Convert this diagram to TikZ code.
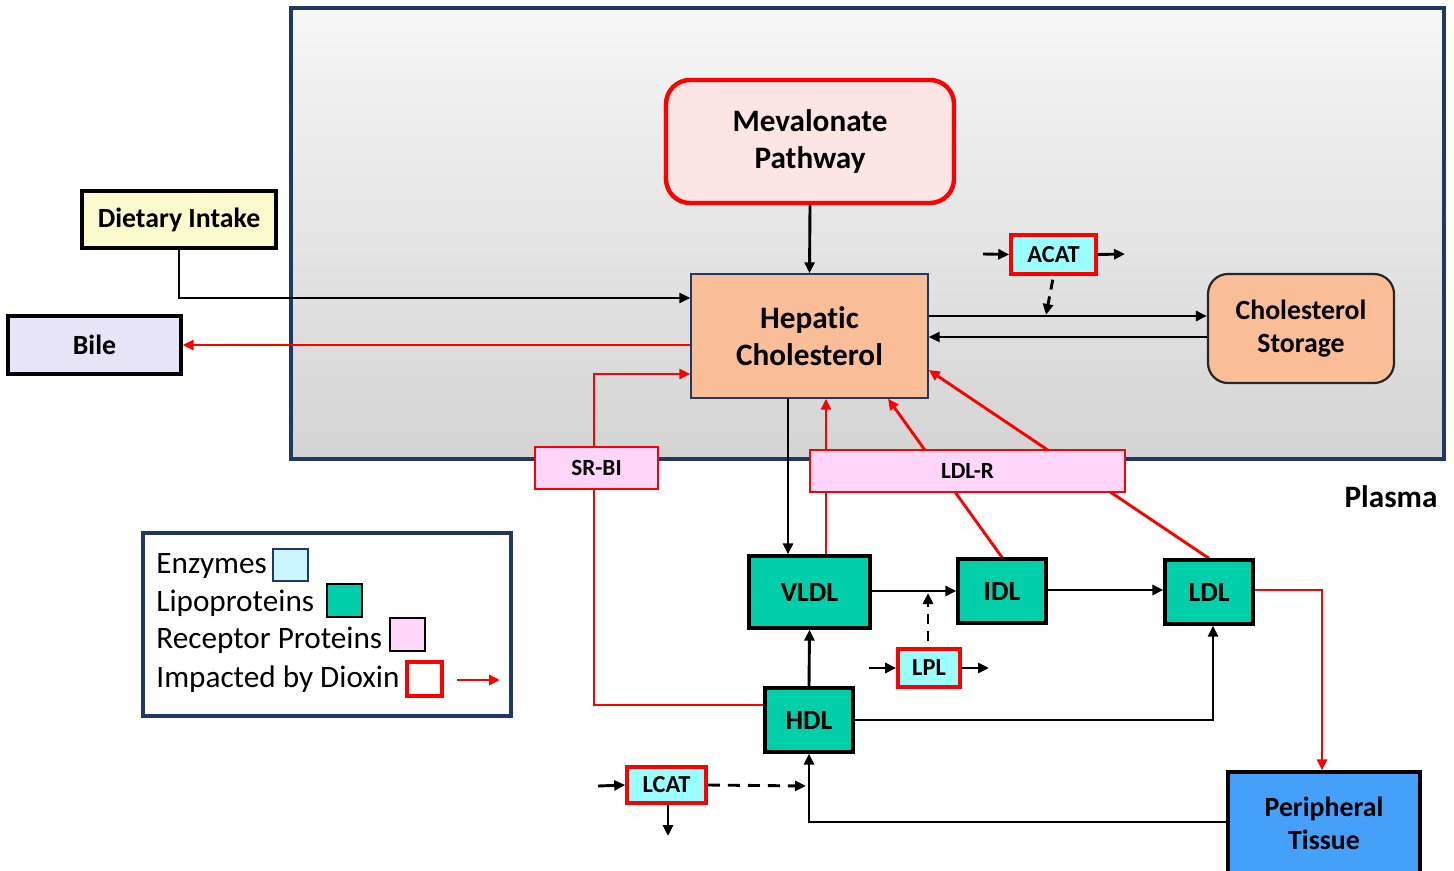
\documentclass[tikz,border=0pt]{standalone}
\usepackage{fontspec}
\setmainfont{Carlito}[Ligatures=NoCommon]
\usetikzlibrary{arrows.meta,calc}
\definecolor{navy}{RGB}{31,56,100}
\definecolor{rd}{RGB}{255,0,0}
\definecolor{mevfill}{RGB}{251,229,229}
\definecolor{peach}{RGB}{249,190,151}
\definecolor{teal2}{RGB}{0,207,170}
\definecolor{cyan2}{RGB}{153,255,255}
\definecolor{pink2}{RGB}{255,214,250}
\definecolor{yell}{RGB}{250,250,204}
\definecolor{lav}{RGB}{232,228,248}
\definecolor{blue2}{RGB}{69,160,250}
\definecolor{lcyan}{RGB}{204,246,255}
\definecolor{gtop}{RGB}{246,246,246}
\definecolor{gbot}{RGB}{212,212,212}
\pgfdeclarelayer{bg}\pgfdeclarelayer{lines}\pgfsetlayers{bg,lines,main}
\newcommand\bx[7]{%
  \pgfmathsetmacro\bxw{(#5-#3)*0.5}%
  \pgfmathsetmacro\bxh{(#6-#4)*0.5}%
  \node[#2, minimum width=\bxw pt, minimum height=\bxh pt] (#1) at ({(#3+#5)/2},{(#4+#6)/2}) {#7};}
\tikzset{
  fbox/.style={inner sep=0pt, align=center, font=\bfseries},
  big/.style={font=\bfseries\fontsize{15.6}{18.5}\selectfont},
  mid/.style={font=\bfseries\fontsize{13.9}{16.5}\selectfont},
  sml/.style={font=\bfseries\fontsize{11.6}{14}\selectfont},
  lipo/.style={fbox, mid, draw=black, fill=teal2, line width=1.6pt},
  enz/.style={fbox, font=\bfseries\fontsize{12.2}{14}\selectfont, draw=rd, fill=cyan2, line width=1.8pt},
  rec/.style={fbox, sml, draw=rd, fill=pink2, line width=1.4pt},
  arr/.style={line width=1.45pt, -{Triangle[length=5.5pt,width=5pt]}},
  blk/.style={arr, draw=black},
  red/.style={arr, draw=rd},
  legtxt/.style={anchor=west, inner sep=0pt, font=\fontsize{15.6}{18}\selectfont},
  sq/.style={inner sep=0pt, line width=1.4pt},
}
\begin{document}
\begin{tikzpicture}[x=0.5pt,y=-0.5pt]
\useasboundingbox (0,0) rectangle (1454,871);
\begin{pgfonlayer}{bg}
  \fill[white] (0,0) rectangle (1454,871);
  \shade[top color=gtop, bottom color=gbot] (291,8) rectangle (1444,459);
  \draw[navy, line width=1.6pt] (291,8) rectangle (1444,459);
\end{pgfonlayer}

% nodes
\bx{mev}{fbox, big, draw=rd, fill=mevfill, line width=2.2pt, rounded corners=12pt}{666}{80}{954}{203}{Mevalonate\\Pathway}
\bx{hep}{fbox, big, draw=navy, fill=peach, line width=0.7pt}{691}{274}{928}{398}{Hepatic\\Cholesterol}
\bx{stor}{fbox, mid, draw=black!85, fill=peach, line width=1.1pt, rounded corners=10pt}{1208}{274}{1394}{383}{Cholesterol\\Storage}
\bx{diet}{fbox, mid, draw=black, fill=yell, line width=1.6pt}{82}{191}{276}{248}{Dietary Intake}
\bx{bile}{fbox, mid, draw=black, fill=lav, line width=1.6pt}{8}{316}{181}{374}{Bile}
\bx{acat}{enz}{1011}{235}{1096}{274}{ACAT}
\bx{srbi}{rec}{535}{447}{658}{489}{SR-BI}
\bx{ldlr}{rec}{810}{450}{1125}{492}{LDL-R}
\bx{vldl}{lipo}{749}{556}{870}{628}{VLDL}
\bx{idl}{lipo}{958}{559}{1046}{623}{IDL}
\bx{ldl}{lipo}{1165}{560}{1253}{624}{LDL}
\bx{hdl}{lipo}{765}{688}{853}{752}{HDL}
\bx{lpl}{enz}{898}{649}{960}{687}{LPL}
\bx{lcat}{enz}{627}{767}{706}{803}{LCAT}
\bx{peri}{fbox, mid, draw=black, fill=blue2, line width=1.6pt}{1228}{772}{1420}{875}{Peripheral\\Tissue}
\node[big, inner sep=0pt] (plasma) at (1391,497) {Plasma};

% legend
\bx{legend}{draw=navy, line width=1.6pt, fill=white, inner sep=0pt}{143}{533}{511}{716}{}
\node[legtxt] (l1) at (156,566) {Enzymes};
\node[legtxt] (l2) at (156,603) {Lipoproteins};
\node[legtxt] (l3) at (156,640) {Receptor Proteins};
\node[legtxt] (l4) at (156,679) {Impacted by Dioxin};
\bx{s1}{sq, draw=navy, fill=lcyan}{273}{549}{308}{581}{}
\bx{s2}{sq, draw=black, fill=teal2}{327}{584}{362}{617}{}
\bx{s3}{sq, draw=black, fill=pink2}{390}{618}{425}{651}{}
\bx{s4}{sq, draw=rd, fill=white, line width=2pt}{407}{662}{442}{696}{}
\coordinate (la) at (457,680);
\coordinate (lb) at (500,680);
\draw[red] (la) -- (lb);

% connectors
\begin{pgfonlayer}{lines}
  \draw[blk] (mev.south) -- (hep.north);
  \draw[blk] (diet.south) |- (hep.west |- 0,298);
  \draw[red] (hep.west |- 0,345) -- (bile.east |- 0,345);
  \draw[blk] (hep.east |- 0,316) -- (stor.west |- 0,316);
  \draw[blk] (stor.west |- 0,337) -- (hep.east |- 0,337);
  \coordinate (acin) at (983,254);
  \coordinate (acout) at (1125,254);
  \coordinate (acdn) at (1046,315);
  \draw[blk] (acin) -- (acat.west);
  \draw[blk] (acat.east) -- (acout);
  \draw[blk, dash pattern=on 5pt off 3.5pt, shorten <=2pt] (acat.south) -- (acdn);
  \draw[blk] (hep.south -| 788,0) -- (vldl.north -| 788,0);
  \draw[red] (vldl.north -| 826,0) -- (hep.south -| 826,0);
  \draw[red] (idl.north) -- (hep.south -| 888,0);
  \draw[red] (ldl.north) -- (hep.east |- 0,370);
  \draw[red] (hdl.west |- 0,705) -| (594,374) -- (hep.west |- 0,374);
  \draw[blk] (vldl.east |- 0,591) -- (idl.west |- 0,591);
  \draw[blk] (idl.east |- 0,590) -- (ldl.west |- 0,590);
  \draw[blk] (hdl.north) -- (vldl.south);
  \draw[blk] (hdl.east) -| (ldl.south -| 1213,0);
  \draw[red] (ldl.east |- 0,590) -| (peri.north -| 1322,0);
  \draw[blk] (peri.west |- 0,822) -| (hdl.south);
  \coordinate (lplin) at (869,668);
  \coordinate (lplout) at (989,668);
  \coordinate (lplup) at (928,593);
  \draw[blk] (lplin) -- (lpl.west);
  \draw[blk] (lpl.east) -- (lplout);
  \draw[blk, dash pattern=on 5pt off 3.5pt, shorten <=3pt] (lpl.north -| lplup) -- (lplup);
  \coordinate (lcin) at (598,786);
  \coordinate (lcend) at (806,786);
  \coordinate (lcdn) at (668,836);
  \draw[blk] (lcin) -- (lcat.west);
  \draw[blk, dash pattern=on 6pt off 4pt] (lcat.east) -- (lcend);
  \draw[blk] (lcat.south -| lcdn) -- (lcdn);
\end{pgfonlayer}
\end{tikzpicture}
\end{document}
